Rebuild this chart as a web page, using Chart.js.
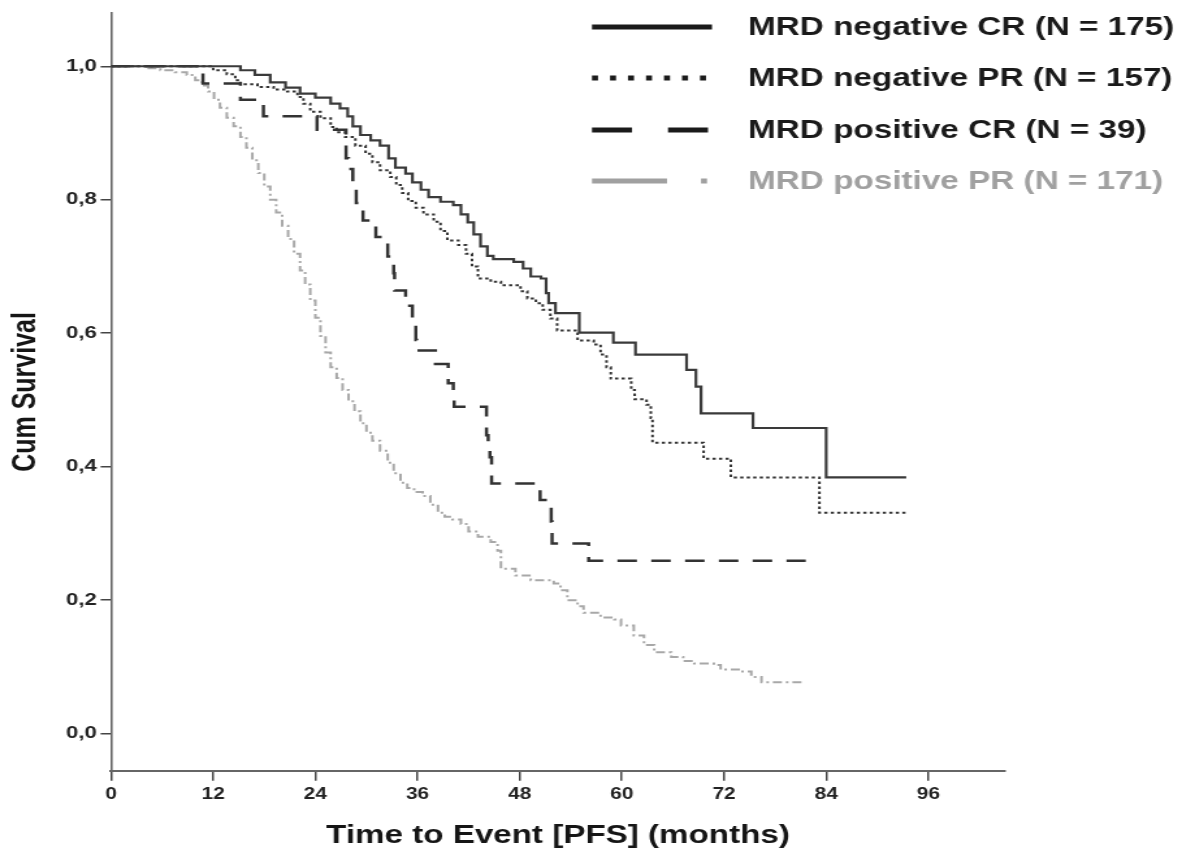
<!DOCTYPE html>
<html>
<head>
<meta charset="utf-8">
<script src="https://cdn.jsdelivr.net/npm/chart.js@4.4.1/dist/chart.umd.min.js"></script>
<style>
html,body{margin:0;padding:0;background:#fff;overflow:hidden}
#c{display:block;width:1182px !important;height:853px !important}
</style>
</head>
<body>
<canvas id="c" width="909" height="853" style="width:1182px;height:853px"></canvas>
<script>
// ---- Data (months, cumulative survival) ----
const negCR_t = [0, 15.2, 16.9, 18.7, 20.5, 22.2, 24.0, 25.8, 26.9, 27.8, 28.4, 29.3, 30.5, 31.6, 32.6, 33.4, 34.6, 35.4, 36.4, 37.3, 38.7, 40.2, 41.1, 41.9, 42.6, 43.4, 44.2, 44.9, 47.3, 48.4, 49.3, 50.5, 51.1, 51.4, 52.2, 55.0, 59.0, 61.6, 67.6, 68.7, 69.3, 75.4, 84.0, 93.4];
const negCR_s = [1.0, 0.994, 0.987, 0.976, 0.968, 0.959, 0.953, 0.944, 0.937, 0.925, 0.910, 0.897, 0.889, 0.881, 0.862, 0.848, 0.839, 0.826, 0.815, 0.804, 0.797, 0.792, 0.778, 0.766, 0.748, 0.730, 0.716, 0.711, 0.707, 0.697, 0.685, 0.682, 0.660, 0.645, 0.630, 0.601, 0.586, 0.568, 0.545, 0.520, 0.480, 0.458, 0.384, 0.384];

const negPR_t = [0, 12.0, 13.6, 14.6, 15.2, 17.2, 19.1, 20.7, 21.9, 22.6, 23.4, 24.6, 25.8, 26.5, 27.5, 28.7, 29.9, 30.7, 31.6, 32.8, 33.5, 34.2, 34.9, 35.8, 36.7, 37.9, 38.7, 39.5, 40.8, 41.7, 42.4, 43.1, 44.6, 45.8, 48.1, 48.9, 49.9, 50.7, 51.6, 52.4, 54.8, 56.7, 57.5, 58.2, 58.7, 61.1, 61.5, 62.9, 63.4, 63.6, 69.6, 72.8, 83.2, 93.4];
const negPR_s = [1.0, 0.994, 0.988, 0.979, 0.973, 0.969, 0.965, 0.962, 0.954, 0.944, 0.932, 0.922, 0.909, 0.901, 0.894, 0.881, 0.869, 0.856, 0.844, 0.834, 0.822, 0.810, 0.798, 0.788, 0.778, 0.767, 0.753, 0.739, 0.732, 0.719, 0.700, 0.682, 0.677, 0.672, 0.663, 0.652, 0.645, 0.635, 0.622, 0.604, 0.589, 0.583, 0.568, 0.549, 0.532, 0.515, 0.501, 0.493, 0.473, 0.436, 0.412, 0.384, 0.331, 0.331];

const posCR_t = [0, 10.8, 15.2, 17.9, 24.2, 27.6, 27.9, 28.4, 28.8, 29.6, 31.1, 32.5, 33.2, 33.3, 34.6, 35.4, 35.8, 35.9, 38.1, 39.6, 40.2, 40.3, 44.1, 44.3, 44.5, 44.7, 50.4, 51.7, 51.8, 56.1, 81.6];
const posCR_s = [1.0, 0.974, 0.950, 0.925, 0.905, 0.862, 0.846, 0.820, 0.795, 0.769, 0.744, 0.715, 0.690, 0.664, 0.641, 0.615, 0.590, 0.574, 0.554, 0.525, 0.503, 0.490, 0.447, 0.430, 0.414, 0.375, 0.350, 0.318, 0.285, 0.259, 0.259];

const posPR_t = [0, 4.0, 5.8, 7.5, 8.9, 9.9, 10.7, 11.4, 12.1, 12.8, 13.6, 14.4, 15.2, 15.9, 16.6, 17.3, 18.0, 18.7, 19.4, 20.1, 20.8, 21.5, 22.2, 22.8, 23.4, 24.0, 24.6, 25.2, 25.8, 26.5, 27.2, 27.9, 28.6, 29.3, 30.0, 30.7, 31.6, 32.5, 33.2, 34.0, 34.8, 35.6, 36.6, 37.5, 38.4, 39.2, 40.1, 41.1, 42.0, 43.1, 44.6, 45.4, 45.8, 47.5, 49.3, 52.0, 52.8, 53.6, 54.8, 55.5, 57.5, 59.1, 59.9, 61.4, 62.6, 63.8, 65.8, 67.2, 68.5, 70.8, 71.6, 74.0, 75.2, 76.4, 81.1];
const posPR_s = [1.0, 0.997, 0.994, 0.991, 0.987, 0.979, 0.971, 0.962, 0.950, 0.938, 0.923, 0.910, 0.894, 0.878, 0.859, 0.840, 0.820, 0.800, 0.781, 0.761, 0.741, 0.719, 0.694, 0.673, 0.649, 0.623, 0.596, 0.571, 0.549, 0.533, 0.515, 0.498, 0.483, 0.465, 0.451, 0.439, 0.424, 0.406, 0.390, 0.376, 0.368, 0.362, 0.356, 0.343, 0.331, 0.325, 0.321, 0.314, 0.303, 0.295, 0.287, 0.274, 0.247, 0.237, 0.230, 0.225, 0.215, 0.200, 0.191, 0.181, 0.174, 0.171, 0.162, 0.147, 0.133, 0.122, 0.115, 0.109, 0.105, 0.103, 0.096, 0.093, 0.085, 0.077, 0.077];

const seriesLabels = ['MRD negative CR (N = 175)', 'MRD negative PR (N = 157)', 'MRD positive CR (N = 39)', 'MRD positive PR (N = 171)'];
const xTicks = [0, 12, 24, 36, 48, 60, 72, 84, 96];
const yTicks = [0.0, 0.2, 0.4, 0.6, 0.8, 1.0];
const xTitle = 'Time to Event [PFS] (months)';
const yTitle = 'Cum Survival';

// ---- Layout helpers ----
const SX = 909 / 1182; // page px -> canvas px (canvas is stretched horizontally)
const pts = (t, s) => t.map((v, i) => ({ x: v, y: s[i] }));
const FONT = '"Liberation Sans", Arial, Helvetica, sans-serif';

const legendPlugin = {
  id: 'kmLegend',
  afterDraw(chart) {
    const ctx = chart.ctx;
    const rowsY = [27, 78, 130, 181];
    const x0 = 592 * SX, x1 = 712 * SX, tx = 748 * SX;
    chart.data.datasets.forEach((ds, i) => {
      const y = rowsY[i];
      ctx.save();
      ctx.strokeStyle = ds.legendColor;
      ctx.lineWidth = 5;
      ctx.lineCap = 'butt';
      ctx.setLineDash(ds.legendDash);
      ctx.beginPath();
      ctx.moveTo(x0, y);
      ctx.lineTo(x1, y);
      ctx.stroke();
      ctx.setLineDash([]);
      ctx.fillStyle = ds.legendColor;
      ctx.font = 'bold 25.6px ' + FONT;
      ctx.textBaseline = 'middle';
      ctx.textAlign = 'left';
      ctx.fillText(ds.label, tx, y + 1);
      ctx.restore();
    });
  }
};

const chart = new Chart(document.getElementById('c'), {
  type: 'line',
  data: {
    datasets: [
      { label: seriesLabels[0], data: pts(negCR_t, negCR_s), stepped: true,
        borderColor: '#3a3a3a', borderWidth: 2.2, borderDash: [],
        pointRadius: 0, fill: false,
        legendColor: '#1a1a1a', legendDash: [] },
      { label: seriesLabels[1], data: pts(negPR_t, negPR_s), stepped: true,
        borderColor: '#333333', borderWidth: 2, borderDash: [2.5, 2.5],
        pointRadius: 0, fill: false,
        legendColor: '#1a1a1a', legendDash: [6 * SX, 12 * SX] },
      { label: seriesLabels[2], data: pts(posCR_t, posCR_s), stepped: true,
        borderColor: '#333333', borderWidth: 2.5, borderDash: [15, 11],
        pointRadius: 0, fill: false,
        legendColor: '#1a1a1a', legendDash: [40 * SX, 36 * SX] },
      { label: seriesLabels[3], data: pts(posPR_t, posPR_s), stepped: true,
        borderColor: '#a8a8a8', borderWidth: 2, borderDash: [7, 3, 2, 3],
        pointRadius: 0, fill: false,
        legendColor: '#a0a0a0', legendDash: [75 * SX, 34 * SX, 6 * SX, 200] }
    ]
  },
  options: {
    responsive: false,
    animation: false,
    devicePixelRatio: 1,
    layout: { padding: { left: 0, right: 909 - 1005 * SX, top: 0, bottom: 0 } },
    plugins: { legend: { display: false }, tooltip: { enabled: false } },
    scales: {
      x: {
        type: 'linear', min: 0, max: 105,
        afterBuildTicks: s => { s.ticks = xTicks.map(v => ({ value: v })); },
        ticks: { color: '#222', font: { family: FONT, size: 16, weight: 'bold' }, padding: 4, maxRotation: 0, autoSkip: false },
        grid: { drawOnChartArea: false, drawTicks: true, tickLength: 10, color: '#444', lineWidth: 1.5 },
        border: { display: true, color: '#666', width: 2 },
        title: { display: true, text: xTitle, color: '#151515', font: { family: FONT, size: 25.5, weight: 'bold' }, padding: { top: 0, bottom: 2 } },
        afterFit: s => { s.height = 853 - 770.7; }
      },
      y: {
        type: 'linear', min: -0.0555, max: 1.0795,
        afterBuildTicks: s => { s.ticks = yTicks.map(v => ({ value: v })); },
        ticks: { color: '#222', font: { family: FONT, size: 17, weight: 'bold' }, padding: 3,
                 callback: v => Number(v).toFixed(1).replace('.', ',') },
        grid: { drawOnChartArea: false, drawTicks: true, tickLength: 8, color: '#444', lineWidth: 1.5 },
        border: { display: true, color: '#666', width: 1.6 },
        title: { display: true, text: yTitle, color: '#151515', font: { family: FONT, size: 25, weight: 'bold' }, padding: { top: 5, bottom: 0 } },
        afterFit: s => { s.width = 111 * SX; }
      }
    }
  },
  plugins: [legendPlugin]
});
</script>
</body>
</html>
